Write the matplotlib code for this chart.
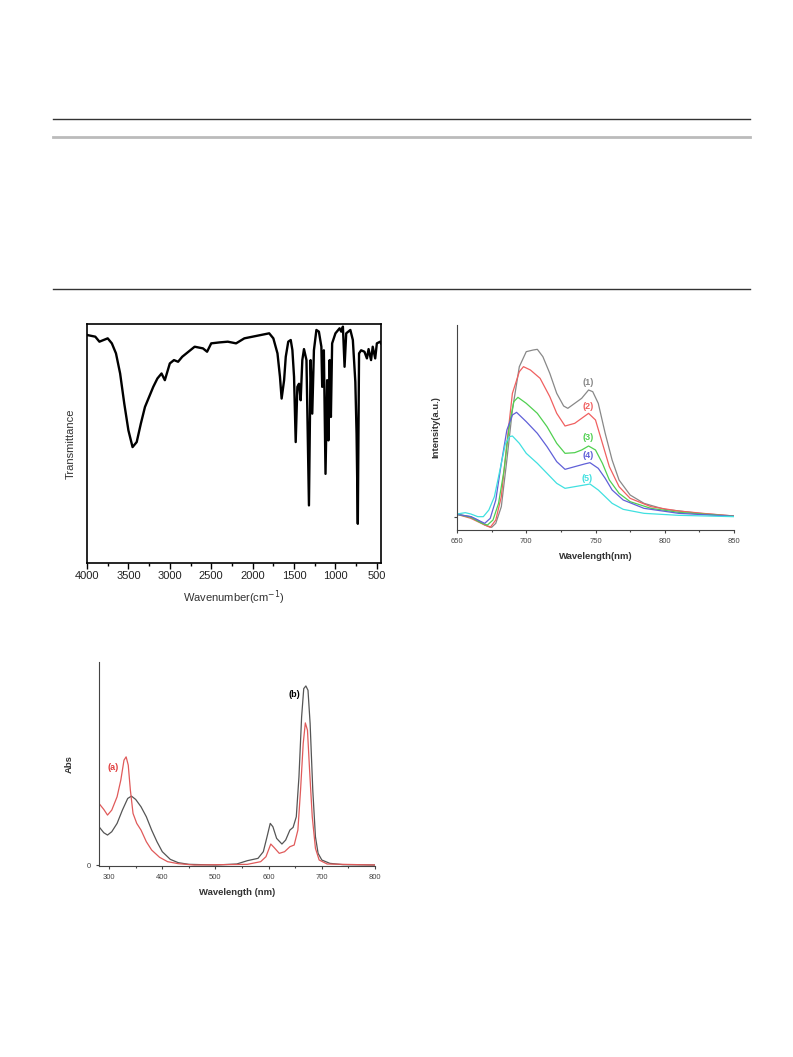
import numpy as np
import matplotlib
matplotlib.use("Agg")
import matplotlib.pyplot as plt
from matplotlib.ticker import MultipleLocator

plt.rcParams['font.family'] = ['Liberation Sans', 'DejaVu Sans']

# =========================
# 1. DATA
# =========================

# IR spectrum
ir_wavenumber = [4000, 3900, 3850, 3800, 3750, 3700, 3650, 3600, 3550, 3500, 3450, 3400,
                 3350, 3300, 3250, 3200, 3150, 3100, 3060, 3000, 2950, 2900, 2850, 2800,
                 2700, 2600, 2550, 2500, 2400, 2300, 2200, 2100, 2000, 1900, 1800, 1750,
                 1700, 1670, 1650, 1620, 1600, 1570, 1540, 1520, 1500, 1480, 1460, 1440,
                 1420, 1400, 1380, 1350, 1320, 1300, 1280, 1260, 1230, 1200, 1170, 1160,
                 1140, 1120, 1100, 1085, 1070, 1055, 1040, 1000, 950, 930, 910, 890, 870,
                 820, 790, 760, 745, 730, 715, 690, 650, 620, 600, 570, 550, 520, 500, 460, 450]
ir_transmittance = [95.4, 94.7, 92.6, 93.3, 94.0, 91.9, 87.7, 79.3, 66.7, 55.5, 48.5, 50.6,
                    58.3, 65.3, 69.5, 73.7, 77.2, 79.3, 76.5, 83.5, 84.9, 84.2, 86.3, 87.7,
                    90.5, 89.8, 88.4, 91.9, 92.3, 92.6, 91.9, 94.0, 94.7, 95.4, 96.1, 94.0,
                    87.7, 77.9, 68.8, 76.5, 86.3, 92.6, 93.3, 89.1, 77.9, 50.6, 73.7, 75.0,
                    68.1, 84.9, 89.5, 84.9, 24.1, 84.9, 62.5, 89.0, 97.5, 96.8, 90.5, 73.7,
                    89.0, 37.3, 76.5, 51.3, 84.9, 61.1, 91.9, 96.1, 98.2, 96.8, 98.9, 82.1, 96.1,
                    97.5, 93.3, 75.8, 54.1, 16.4, 87.7, 89.0, 88.4, 85.6, 89.5, 84.9, 90.5, 85.6, 91.9, 92.6, 91.9]

# Emission spectra
em_wl_1 = [650, 660, 665, 670, 675, 678, 682, 686, 690, 695, 700, 705, 708, 712, 717, 722,
           727, 730, 735, 740, 745, 748, 752, 757, 762, 767, 775, 785, 800, 825, 850]
em_int_1 = [0.9, 0.2, -0.8, -2.3, -3.0, -1.8, 3.2, 17.2, 32.2, 45.2, 49.7, 50.2, 50.4, 48.2,
            43.2, 37.2, 33.4, 32.7, 34.2, 35.7, 38.2, 37.7, 34.2, 25.2, 17.2, 11.2, 6.7, 4.2,
            2.4, 1.2, 0.4]
em_wl_2 = [650, 660, 670, 674, 678, 682, 686, 690, 695, 698, 703, 710, 717, 722, 728, 735,
           740, 745, 750, 755, 760, 767, 775, 790, 810, 830, 850]
em_int_2 = [0.9, -0.3, -2.3, -3.0, -0.8, 6.2, 22.2, 37.2, 43.7, 45.2, 44.2, 41.7, 36.2, 31.2,
            27.4, 28.2, 29.7, 31.2, 29.2, 22.2, 15.2, 9.2, 5.7, 3.2, 1.9, 1.1, 0.4]
em_wl_3 = [650, 660, 668, 672, 676, 680, 684, 688, 691, 694, 700, 708, 715, 722, 728, 735,
           740, 745, 750, 755, 760, 767, 775, 790, 810, 850]
em_int_3 = [0.9, 0.0, -1.8, -2.3, -0.8, 4.2, 14.2, 28.2, 34.7, 36.0, 34.2, 31.2, 27.2, 22.2,
            19.2, 19.4, 20.2, 21.4, 20.2, 16.2, 11.2, 7.2, 4.7, 2.7, 1.5, 0.3]
em_wl_4 = [650, 660, 665, 670, 674, 678, 682, 686, 690, 693, 700, 708, 715, 722, 728, 735,
           742, 746, 752, 757, 762, 770, 785, 810, 850]
em_int_4 = [0.9, 0.2, -0.8, -1.8, -0.3, 5.2, 16.2, 26.2, 30.7, 31.5, 28.7, 25.2, 21.2, 16.7,
            14.4, 15.2, 16.0, 16.4, 14.7, 11.7, 8.2, 5.2, 2.7, 1.2, 0.3]
em_wl_5 = [650, 656, 660, 665, 669, 673, 677, 681, 685, 688, 690, 695, 700, 708, 715, 722,
           728, 735, 742, 746, 752, 757, 762, 770, 785, 810, 850]
em_int_5 = [1.0, 1.4, 1.0, 0.2, 0.2, 2.2, 6.2, 14.2, 22.2, 24.2, 24.4, 22.2, 19.2, 16.2, 13.2,
            10.2, 8.7, 9.2, 9.7, 10.0, 8.2, 6.2, 4.2, 2.4, 1.2, 0.6, 0.2]
em_labels = ["(1)", "(2)", "(3)", "(4)", "(5)"]
em_label_x = [745, 745, 745, 745, 744]
em_label_y = [40.4, 33.2, 24.0, 18.7, 11.7]

# Absorption spectra
abs_wl_b = [281, 290, 297, 305, 315, 325, 335, 342, 350, 360, 370, 380, 390, 400, 415, 430,
            450, 500, 540, 560, 580, 590, 597, 603, 608, 615, 625, 632, 640, 646, 652, 657,
            662, 666, 670, 674, 678, 683, 688, 693, 700, 715, 740, 800]
abs_b = [11.5, 9.7, 9.0, 10.0, 12.5, 16.5, 20.0, 20.7, 19.7, 17.5, 14.5, 10.5, 7.0, 4.0, 1.7,
         0.7, 0.2, 0.0, 0.3, 1.3, 2.0, 4.0, 8.5, 12.5, 11.5, 8.0, 6.3, 7.5, 10.5, 11.3, 14.5,
         26.5, 44.5, 53.0, 53.8, 52.5, 42.5, 22.5, 8.5, 3.5, 1.5, 0.5, 0.1, 0.0]
abs_wl_a = [281, 290, 297, 305, 315, 322, 328, 332, 336, 340, 345, 352, 360, 370, 380, 395,
            410, 430, 460, 560, 585, 595, 604, 610, 620, 630, 640, 648, 655, 660, 665, 669,
            673, 677, 682, 688, 695, 710, 800]
abs_a = [18.5, 16.7, 15.0, 16.5, 20.5, 25.5, 31.5, 32.5, 30.0, 22.5, 15.5, 12.5, 10.5, 7.0,
         4.5, 2.3, 1.0, 0.4, 0.0, 0.2, 1.0, 2.5, 6.3, 5.3, 3.5, 4.0, 5.5, 6.0, 10.5, 22.5, 36.5,
         42.7, 40.5, 28.5, 14.5, 5.0, 1.5, 0.3, 0.0]

# =========================
# 2. FIGURE
# =========================

fig = plt.figure(figsize=(7.93, 10.57), dpi=100)

# page rules
for y, c, lw in [(119, "#333333", 1.0), (137, "#bbbbbb", 2.0), (289, "#333333", 1.0)]:
    fig.add_artist(plt.Line2D([53 / 793, 750 / 793], [1 - y / 1057, 1 - y / 1057],
                              color=c, lw=lw, transform=fig.transFigure))

# ---- IR panel ----
ax1 = fig.add_axes([87 / 793, 1 - 563 / 1057, 294 / 793, 239 / 1057])
ax1.plot(ir_wavenumber, ir_transmittance, color="black", lw=1.7)
ax1.set_xlim(4000, 450)
ax1.set_ylim(0, 100)
ax1.set_yticks([])
ax1.xaxis.set_major_locator(MultipleLocator(500))
ax1.xaxis.set_minor_locator(MultipleLocator(250))
ax1.tick_params(axis="x", which="major", direction="out", length=4, width=1, labelsize=8, pad=2,
                labelcolor="#222222")
ax1.tick_params(axis="x", which="minor", direction="out", length=2, width=1)
for s in ax1.spines.values():
    s.set_linewidth(1.2)
ax1.set_xlabel("Wavenumber(cm$^{-1}$)", fontsize=8, color="#333333", labelpad=5)
ax1.set_ylabel("Transmittance", fontsize=8, color="#333333", labelpad=8)

# ---- Emission panel ----
ax2 = fig.add_axes([457 / 793, 1 - 530 / 1057, 277 / 793, 205 / 1057])
em_colors = ["#888888", "#f06060", "#50d050", "#6060d8", "#40e0e0"]
em_wls = [em_wl_1, em_wl_2, em_wl_3, em_wl_4, em_wl_5]
em_ints = [em_int_1, em_int_2, em_int_3, em_int_4, em_int_5]
for wl, it, c in zip(em_wls, em_ints, em_colors):
    ax2.plot(wl, it, color=c, lw=0.9)
for lab, lx, ly, c in zip(em_labels, em_label_x, em_label_y, em_colors):
    ax2.text(lx, ly, lab, color=c, fontsize=6.5, fontweight="bold", ha="center", va="center")
ax2.set_xlim(650, 850)
ax2.set_ylim(-3.8, 57.7)
ax2.set_yticks([0])
ax2.set_yticklabels([""])
ax2.xaxis.set_major_locator(MultipleLocator(50))
ax2.xaxis.set_minor_locator(MultipleLocator(25))
ax2.spines["top"].set_visible(False)
ax2.spines["right"].set_visible(False)
ax2.spines["left"].set_color("#444444")
ax2.spines["bottom"].set_color("#444444")
ax2.tick_params(which="major", direction="out", length=2.5, width=0.8, labelsize=5.5, pad=3.5,
                colors="#444444")
ax2.tick_params(which="minor", direction="out", length=1.5, width=0.8, colors="#444444")
ax2.set_xlabel("Wavelength(nm)", fontsize=6.8, fontweight="bold", color="#333333", labelpad=5)
ax2.set_ylabel("Intensity(a.u.)", fontsize=6.8, fontweight="bold", color="#333333", labelpad=6)

# ---- Absorption panel ----
ax3 = fig.add_axes([99 / 793, 1 - 866 / 1057, 276 / 793, 204 / 1057])
ax3.plot(abs_wl_b, abs_b, color="#555555", lw=0.9)
ax3.plot(abs_wl_a, abs_a, color="#e05a5a", lw=0.9)
ax3.text(307, 29.2, "(a)", color="#e04040", fontsize=6.5, fontweight="bold", ha="center", va="center")
ax3.text(648, 51.2, "(b)", color="black", fontsize=6.5, fontweight="bold", ha="center", va="center")
ax3.set_xlim(281, 800)
ax3.set_ylim(-0.3, 61)
ax3.set_yticks([0])
ax3.xaxis.set_major_locator(MultipleLocator(100))
ax3.xaxis.set_minor_locator(MultipleLocator(50))
ax3.spines["top"].set_visible(False)
ax3.spines["right"].set_visible(False)
ax3.spines["left"].set_color("#444444")
ax3.spines["bottom"].set_color("#444444")
ax3.tick_params(which="major", direction="out", length=2.5, width=0.8, labelsize=5.5, pad=3,
                colors="#444444")
ax3.tick_params(which="minor", direction="out", length=1.5, width=0.8, colors="#444444")
ax3.set_xlabel("Wavelength (nm)", fontsize=6.8, fontweight="bold", color="#333333", labelpad=5)
ax3.set_ylabel("Abs", fontsize=6.8, fontweight="bold", color="#333333", labelpad=10)

fig.savefig("out.png", dpi=100)
